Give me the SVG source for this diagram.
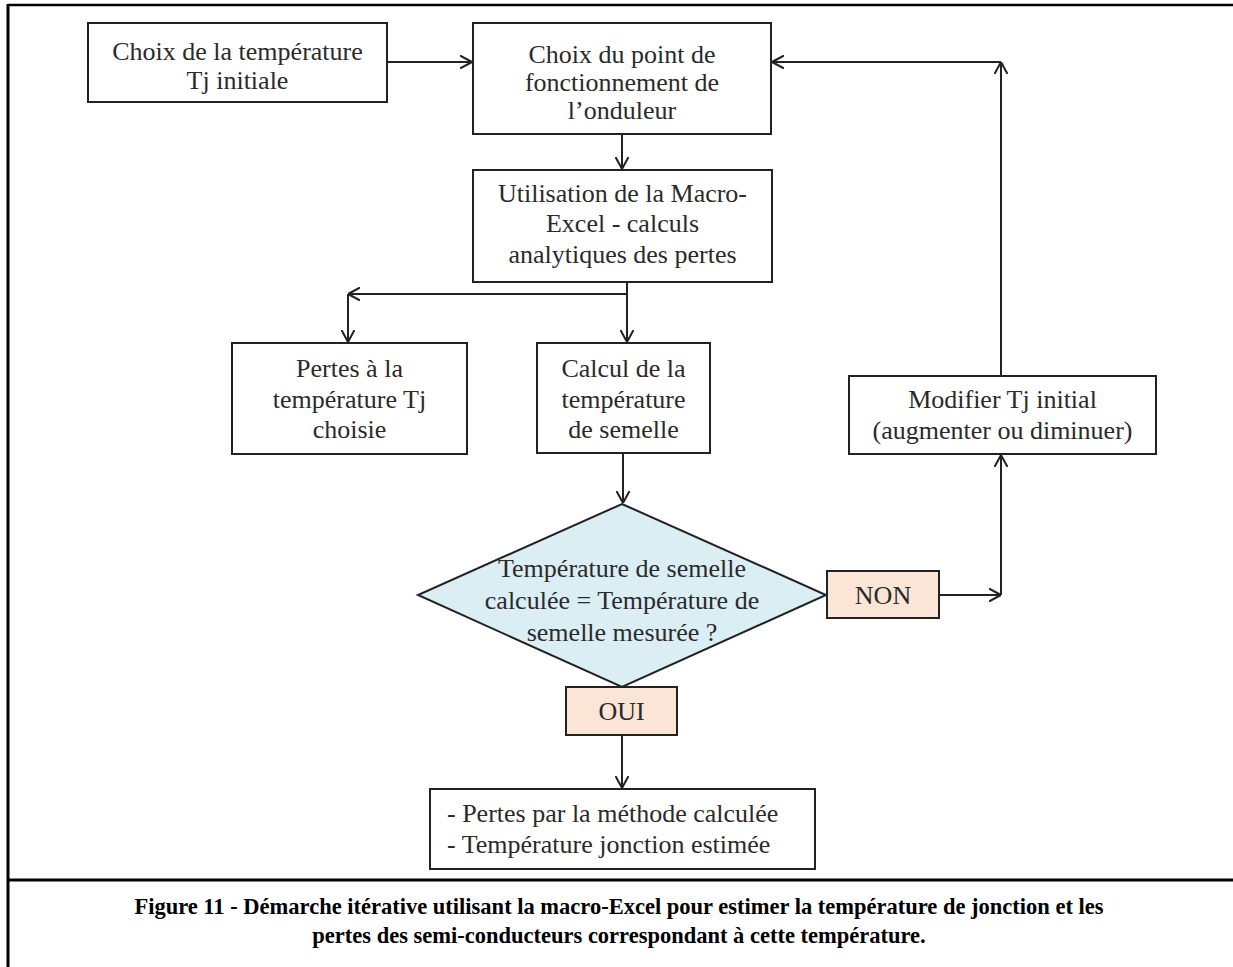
<svg xmlns="http://www.w3.org/2000/svg" width="1233" height="967" viewBox="0 0 1233 967">
<style>
.box{fill:#fff;stroke:#222;stroke-width:2}
.t{font-family:"Liberation Serif","Times New Roman",serif;font-size:26px;fill:#2a2a2a;text-anchor:middle}
.tl{font-family:"Liberation Serif","Times New Roman",serif;font-size:26px;fill:#2a2a2a}
.lbl{fill:#fbe5d6;stroke:#222;stroke-width:2}
.dia{fill:#dbeef4;stroke:#222;stroke-width:2}
.c{fill:none;stroke:#222;stroke-width:2}
.cap{font-family:"Liberation Serif","Times New Roman",serif;font-size:22.5px;font-weight:bold;fill:#000;text-anchor:middle}
.frame{stroke:#000;fill:none}
</style>
<defs>
<marker id="ah" viewBox="0 0 12 14" refX="12" refY="7" markerWidth="12" markerHeight="14" markerUnits="userSpaceOnUse" orient="auto">
<path d="M0,0.5 L12,7 L0,13.5" fill="none" stroke="#222" stroke-width="2"/>
</marker>
</defs>
<rect width="1233" height="967" fill="#fff"/>
<g id="frame">
<line class="frame" x1="8" y1="5" x2="1233" y2="5" stroke-width="2.5"/>
<line class="frame" x1="8" y1="4" x2="8" y2="967" stroke-width="3"/>
<line class="frame" x1="8" y1="880" x2="1233" y2="880" stroke-width="3"/>
</g>
<g id="connectors">
<line class="c" x1="387" y1="62" x2="472" y2="62" marker-end="url(#ah)"/>
<line class="c" x1="622" y1="134" x2="622" y2="169" marker-end="url(#ah)"/>
<line class="c" x1="627" y1="282" x2="627" y2="342" marker-end="url(#ah)"/>
<line class="c" x1="627" y1="294" x2="348" y2="294" marker-end="url(#ah)"/>
<line class="c" x1="348" y1="294" x2="348" y2="342" marker-end="url(#ah)"/>
<line class="c" x1="623" y1="453" x2="623" y2="503" marker-end="url(#ah)"/>
<line class="c" x1="939" y1="595" x2="1001" y2="595" marker-end="url(#ah)"/>
<line class="c" x1="1001" y1="595" x2="1001" y2="455" marker-end="url(#ah)"/>
<line class="c" x1="1001" y1="376" x2="1001" y2="62" marker-end="url(#ah)"/>
<line class="c" x1="1001" y1="62" x2="772" y2="62" marker-end="url(#ah)"/>
<line class="c" x1="622" y1="735" x2="622" y2="788" marker-end="url(#ah)"/>
</g>
<g id="n1">
<rect class="box" x="88" y="23" width="299" height="79"/>
<text class="t" x="237.5" y="60">Choix de la température</text>
<text class="t" x="237.5" y="89">Tj initiale</text>
</g>
<g id="n2">
<rect class="box" x="473" y="23" width="298" height="111"/>
<text class="t" x="622" y="63">Choix du point de</text>
<text class="t" x="622" y="91">fonctionnement de</text>
<text class="t" x="622" y="119">l’onduleur</text>
</g>
<g id="n3">
<rect class="box" x="473" y="170" width="299" height="112"/>
<text class="t" x="622.5" y="202">Utilisation de la Macro-</text>
<text class="t" x="622.5" y="232">Excel - calculs</text>
<text class="t" x="622.5" y="263">analytiques des pertes</text>
</g>
<g id="n4">
<rect class="box" x="232" y="343" width="235" height="111"/>
<text class="t" x="349.5" y="377">Pertes à la</text>
<text class="t" x="349.5" y="408">température Tj</text>
<text class="t" x="349.5" y="438">choisie</text>
</g>
<g id="n5">
<rect class="box" x="537" y="343" width="173" height="110"/>
<text class="t" x="623.5" y="377">Calcul de la</text>
<text class="t" x="623.5" y="408">température</text>
<text class="t" x="623.5" y="438">de semelle</text>
</g>
<g id="n6">
<rect class="box" x="849" y="376" width="307" height="78"/>
<text class="t" x="1002.5" y="408">Modifier Tj initial</text>
<text class="t" x="1002.5" y="439">(augmenter ou diminuer)</text>
</g>
<g id="n7">
<polygon class="dia" points="622,504 826,595 622,687 418,595"/>
<text class="t" x="622" y="577">Température de semelle</text>
<text class="t" x="622" y="609">calculée = Température de</text>
<text class="t" x="622" y="641">semelle mesurée ?</text>
</g>
<g id="n8">
<rect class="lbl" x="827" y="571" width="112" height="47"/>
<text class="t" x="883" y="604">NON</text>
</g>
<g id="n9">
<rect class="lbl" x="566" y="687" width="111" height="48"/>
<text class="t" x="621.5" y="720">OUI</text>
</g>
<g id="n10">
<rect class="box" x="430" y="789" width="385" height="80"/>
<text class="tl" x="447" y="822">- Pertes par la méthode calculée</text>
<text class="tl" x="447" y="853">- Température jonction estimée</text>
</g>
<g id="caption">
<text class="cap" x="619" y="914">Figure 11 - Démarche itérative utilisant la macro-Excel pour estimer la température de jonction et les</text>
<text class="cap" x="619" y="943">pertes des semi-conducteurs correspondant à cette température.</text>
</g>
</svg>
